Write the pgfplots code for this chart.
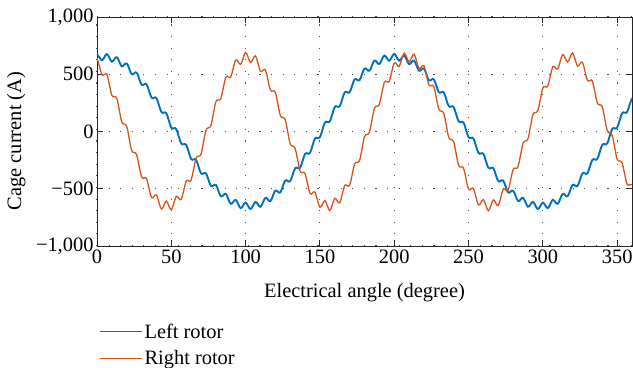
\documentclass[border=0pt]{standalone}
\usepackage{fontspec}
\setmainfont{Liberation Serif}
\usepackage{pgfplots}
\usepackage{pgfplotstable}
\pgfplotsset{compat=1.18}
\definecolor{mblue}{RGB}{0,114,189}
\definecolor{morange}{RGB}{217,83,25}
\pgfplotstableread{
x L R
0 673 639
1.67 648 569
3.33 622 495
5 650 498
6.67 676 498
8.33 644 409
10 610 316
11.67 631 304
13.33 649 289
15 610 188
16.67 569 85
18.33 583 65
20 594 44
21.67 549 -61
23.33 501 -165
25 508 -184
26.67 514 -202
28.33 462 -301
30 409 -397
31.67 411 -406
33.33 411 -411
35 355 -496
36.67 297 -576
38.33 295 -568
40 291 -554
41.67 231 -618
43.33 170 -677
45 165 -645
46.67 159 -608
48.33 97 -648
50 34 -683
51.67 28 -627
53.33 21 -566
55 -42 -583
56.67 -104 -594
58.33 -111 -516
60 -117 -434
61.67 -178 -431
63.33 -239 -424
65 -244 -329
66.67 -248 -232
68.33 -307 -215
70 -365 -197
71.67 -366 -93
73.33 -366 11
75 -421 32
76.67 -475 53
78.33 -472 156
80 -467 259
81.67 -517 275
83.33 -565 288
85 -556 383
86.67 -545 474
88.33 -589 477
90 -631 475
91.67 -615 553
93.33 -597 625
95 -634 608
96.67 -669 586
98.33 -646 641
100 -621 690
101.67 -650 650
103.33 -677 603
105 -647 634
106.67 -615 660
108.33 -637 595
110 -657 525
111.67 -619 534
113.33 -580 537
115 -594 452
116.67 -607 363
118.33 -563 354
120 -517 342
121.67 -525 242
123.33 -532 141
125 -481 122
126.67 -429 102
128.33 -432 -3
130 -433 -108
131.67 -378 -128
133.33 -321 -147
135 -319 -248
136.67 -316 -347
138.33 -257 -359
140 -196 -368
141.67 -192 -457
143.33 -186 -541
145 -124 -537
146.67 -62 -528
148.33 -56 -598
150 -49 -661
151.67 14 -636
153.33 77 -604
155 83 -650
156.67 89 -690
158.33 151 -640
160 213 -584
161.67 218 -606
163.33 222 -623
165 282 -550
166.67 341 -471
168.33 343 -473
170 344 -469
171.67 400 -378
173.33 455 -283
175 452 -269
176.67 449 -253
178.33 500 -150
180 549 -46
181.67 541 -26
183.33 531 -5
185 576 100
186.67 620 203
188.33 605 221
190 589 237
191.67 627 335
193.33 663 429
195 642 436
196.67 618 438
198.33 649 520
200 678 598
201.67 649 586
203.33 618 568
205 642 629
206.67 663 684
208.33 627 649
210 589 608
211.67 605 644
213.33 619 675
215 576 616
216.67 531 551
218.33 541 564
220 549 573
221.67 500 492
223.33 448 407
225 452 401
226.67 455 392
228.33 400 295
230 344 196
231.67 343 178
233.33 341 159
235 282 55
236.67 222 -50
238.33 218 -71
240 213 -91
241.67 151 -194
243.33 89 -295
245 83 -310
246.67 77 -321
248.33 14 -414
250 -49 -502
251.67 -56 -502
253.33 -62 -498
255 -124 -572
256.67 -186 -641
258.33 -192 -621
260 -196 -595
261.67 -257 -646
263.33 -316 -692
265 -319 -648
266.67 -321 -597
268.33 -378 -625
270 -433 -646
271.67 -432 -578
273.33 -429 -505
275 -481 -510
276.67 -532 -511
278.33 -525 -423
280 -517 -332
281.67 -563 -321
283.33 -607 -306
285 -594 -206
286.67 -580 -103
288.33 -619 -83
290 -657 -63
291.67 -637 42
293.33 -615 147
295 -647 166
296.67 -677 184
298.33 -650 284
300 -621 381
301.67 -646 391
303.33 -669 397
305 -634 484
306.67 -597 565
308.33 -615 558
310 -631 546
311.67 -589 612
313.33 -545 672
315 -556 643
316.67 -565 607
318.33 -517 649
320 -467 686
321.67 -472 632
323.33 -475 572
325 -421 591
326.67 -366 604
328.33 -366 528
330 -365 447
331.67 -307 445
333.33 -248 439
335 -244 345
336.67 -239 249
338.33 -178 233
340 -117 215
341.67 -111 112
343.33 -104 8
345 -42 -13
346.67 21 -34
348.33 28 -138
350 34 -241
351.67 97 -258
353.33 159 -272
355 165 -368
356.67 170 -460
358.33 231 -464
360 291 -464
}\data
\begin{document}
\begin{tikzpicture}[font=\fontsize{20.5}{24}\selectfont]
\begin{axis}[
  scale only axis,
  width=535bp, height=229bp,
  xmin=0, xmax=360, ymin=-1000, ymax=1000,
  xtick={0,50,100,150,200,250,300,350},
  xticklabels={0,50,100,150,200,250,300,350},
  ytick={-1000,-500,0,500,1000},
  yticklabels={{−1,000},{−500},{0},{500},{1,000}},
  axis line style={black!85, line width=0.9bp},
  major tick style={black!85, line width=0.9bp},
  major tick length=6bp,
  grid=major,
  grid style={black!70, line width=1.1bp, dash pattern=on 1.1bp off 10.5bp},
  xlabel={Electrical angle (degree)},
  ylabel={Cage current (A)},
  xlabel style={at={(axis description cs:0.5,-0.227)}, anchor=base},
  ylabel style={at={(axis description cs:-0.151,0.4585)}, anchor=center},
  legend cell align=left,
  legend style={draw=none, fill=none, at={(axis description cs:0.004,-0.33)}, anchor=north west, inner sep=0pt, row sep=7bp, font=\fontsize{20.5}{24}\selectfont},
  legend image code/.code={\draw[#1] (0bp,0bp) -- (33bp,0bp); \path (0bp,0bp) -- (42bp,0bp);},
  legend image post style={line width=1.2bp},
]
\addplot[mblue, line width=1.9bp, smooth, tension=0.9] table[x=x, y=L]{\data};
\addlegendentry{Left rotor}
\addplot[morange, line width=1.3bp, smooth, tension=0.8] table[x=x, y=R]{\data};
\addlegendentry{Right rotor}
\coordinate (ll) at (rel axis cs:0,0);
\coordinate (ur) at (rel axis cs:1,1);
\end{axis}
\pgfresetboundingbox
\path[use as bounding box] ([xshift=-97bp,yshift=-122bp]ll) rectangle ([xshift=1bp,yshift=17bp]ur);
\end{tikzpicture}
\end{document}
